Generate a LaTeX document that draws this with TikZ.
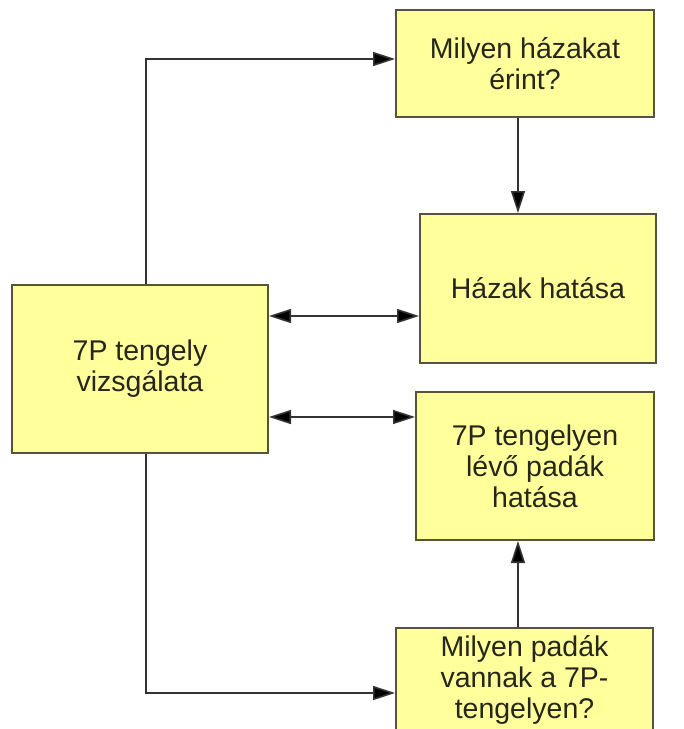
\documentclass[tikz,border=0pt]{standalone}
\usepackage{fontspec}
\setmainfont{Liberation Sans}
\usetikzlibrary{arrows.meta}
\definecolor{boxfill}{HTML}{FFFF9C}
\definecolor{boxline}{HTML}{55553A}
\definecolor{boxtext}{HTML}{26261A}
\definecolor{wire}{HTML}{333333}
\begin{document}
\begin{tikzpicture}[x=1pt, y=-1pt,
    every node/.style={draw=boxline, fill=boxfill, line width=2pt, text=boxtext, align=center,
        font=\fontsize{28.5}{31}\selectfont, inner sep=0pt},
    wire/.style={draw=wire, line width=1.6pt},
    tip/.style={-{Triangle[length=22pt,width=14pt,fill=black]}},
    both/.style={{Triangle[length=22pt,width=14pt,fill=black]}-{Triangle[length=22pt,width=14pt,fill=black]}}]
    \clip (0,0) rectangle (684,729);
    \fill[white] (0,0) rectangle (684,729);
    \node[minimum width=258pt, minimum height=107pt] (hazak) at (525,63.5) {Milyen házakat\\érint?};
    \node[minimum width=236pt, minimum height=149pt] (hatas) at (538,288.5) {Házak hatása};
    \node[minimum width=256pt, minimum height=168pt] (tengely) at (140,369) {7P tengely\\vizsgálata};
    \node[minimum width=238pt, minimum height=148pt] (padhatas) at (535,466) {7P tengelyen\\lévő padák\\hatása};
    \node[minimum width=257pt, anchor=north, inner ysep=8pt] (padak) at (524.5,627) {Milyen padák\\vannak a 7P-\\tengelyen?};
    \coordinate (felso) at (146,59);
    \coordinate (also) at (146,693);
    % connectors
    \draw[wire, tip] (tengely.north -| felso) -- (felso) -- (felso -| hazak.west);
    \draw[wire, tip] ([xshift=-7pt]hazak.south) -- ([xshift=-7pt]hazak.south |- hatas.north);
    \draw[wire, both] ([yshift=53pt]tengely.east) -- ([yshift=53pt]tengely.east -| hatas.west);
    \draw[wire, both] ([yshift=-48pt]tengely.east) -- ([yshift=-48pt]tengely.east -| padhatas.west);
    \draw[wire, tip] ([xshift=-6.5pt]padak.north) -- ([xshift=-6.5pt]padak.north |- padhatas.south);
    \draw[wire, tip] (tengely.south -| also) -- (also) -- (also -| padak.west);
\end{tikzpicture}
\end{document}
